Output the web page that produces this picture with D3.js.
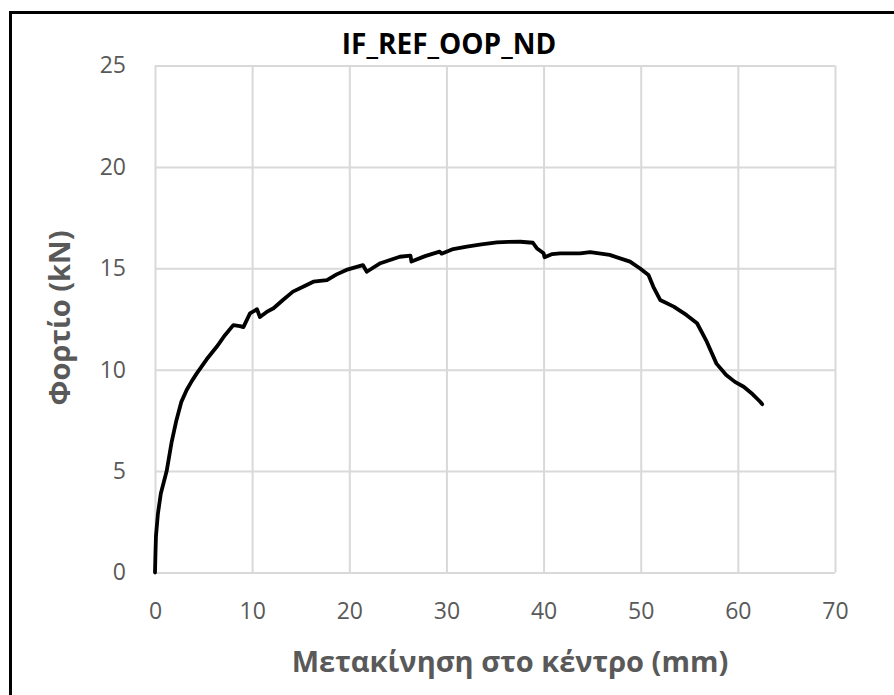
<!DOCTYPE html>
<html>
<head>
<meta charset="utf-8">
<script src="https://cdn.jsdelivr.net/npm/d3@7"></script>
<style>
  html, body { margin: 0; padding: 0; background: #fff; }
  svg { display: block; }
</style>
</head>
<body>
<svg id="chart" width="894" height="695"></svg>
<script>
// Load–displacement curve, central deflection test IF_REF_OOP_ND
const displacement = [0, 0.05, 0.1, 0.3, 0.6, 1.2, 1.7, 2.2, 2.7, 3.26, 3.8, 4.3, 5.3, 6.35, 7.2, 8.06, 8.75, 9.1, 9.78, 10.5, 10.8, 11.5, 12.2, 13.2, 14.2, 15.3, 16.3, 17.7, 18.7, 19.7, 21.4, 21.8, 23.2, 25.2, 26.3, 26.4, 27.8, 29.3, 29.5, 30.7, 32.1, 33.6, 35.2, 36.4, 37.6, 38.9, 39.3, 40.0, 40.1, 40.9, 41.7, 43.75, 44.8, 46.8, 48.9, 49.9, 50.8, 51.3, 52.0, 53.4, 54.7, 55.8, 56.8, 57.8, 58.8, 59.7, 60.6, 61.5, 62.3, 62.5];
const load = [0, 1.0, 1.8, 2.9, 3.9, 5.0, 6.4, 7.5, 8.4, 9.0, 9.45, 9.82, 10.5, 11.13, 11.7, 12.2, 12.15, 12.1, 12.78, 12.98, 12.6, 12.85, 13.03, 13.45, 13.85, 14.1, 14.34, 14.42, 14.7, 14.92, 15.16, 14.83, 15.25, 15.57, 15.62, 15.33, 15.6, 15.82, 15.72, 15.95, 16.07, 16.18, 16.28, 16.3, 16.31, 16.26, 15.99, 15.74, 15.54, 15.7, 15.74, 15.74, 15.8, 15.66, 15.33, 15.0, 14.67, 14.09, 13.44, 13.11, 12.7, 12.29, 11.38, 10.3, 9.74, 9.4, 9.16, 8.8, 8.42, 8.3];

const xTicks = [0, 10, 20, 30, 40, 50, 60, 70];
const yTicks = [0, 5, 10, 15, 20, 25];

const chartTitle = "IF_REF_OOP_ND";
const xTitle = "Μετακίνηση στο κέντρο (mm)";
const yTitle = "Φορτίο (kN)";

const svg = d3.select("#chart");
const plot = { left: 155, right: 835, top: 65.5, bottom: 572.5 };

const x = d3.scaleLinear().domain([0, 70]).range([plot.left, plot.right]);
const y = d3.scaleLinear().domain([0, 25]).range([plot.bottom, plot.top]);

const font = "'Open Sans', 'DejaVu Sans', sans-serif";
const grey = "#595959";
const gridColor = "#d9d9d9";

// outer frame (top and left edges)
svg.append("line").attr("x1", 10.5).attr("x2", 894).attr("y1", 12.5).attr("y2", 12.5)
  .attr("stroke", "#000").attr("stroke-width", 3);
svg.append("line").attr("x1", 10.5).attr("x2", 10.5).attr("y1", 11).attr("y2", 695)
  .attr("stroke", "#000").attr("stroke-width", 3);

// gridlines
const xAxisGrid = d3.axisBottom(x).tickValues(xTicks).tickSize(-(plot.bottom - plot.top)).tickFormat("");
const yAxisGrid = d3.axisLeft(y).tickValues(yTicks).tickSize(-(plot.right - plot.left)).tickFormat("");

svg.append("g").attr("transform", `translate(0,${plot.bottom})`).call(xAxisGrid)
  .call(g => g.select(".domain").remove())
  .call(g => g.selectAll("line").attr("stroke", gridColor).attr("stroke-width", 2));
svg.append("g").attr("transform", `translate(${plot.left},0)`).call(yAxisGrid)
  .call(g => g.select(".domain").remove())
  .call(g => g.selectAll("line").attr("stroke", gridColor).attr("stroke-width", 2));

// tick labels
const xAxis = d3.axisBottom(x).tickValues(xTicks).tickSize(0).tickPadding(30);
svg.append("g").attr("transform", `translate(0,${plot.bottom})`).call(xAxis)
  .call(g => g.select(".domain").remove())
  .call(g => g.selectAll("text").attr("fill", grey).style("font-family", font).style("font-size", "23px"));

const yAxis = d3.axisLeft(y).tickValues(yTicks).tickSize(0).tickPadding(29);
svg.append("g").attr("transform", `translate(${plot.left},0)`).call(yAxis)
  .call(g => g.select(".domain").remove())
  .call(g => g.selectAll("text").attr("fill", grey).style("font-family", font).style("font-size", "23px"));

// data line
const line = d3.line().x((d, i) => x(displacement[i])).y(d => y(d));
svg.append("path").datum(load).attr("d", line)
  .attr("fill", "none").attr("stroke", "#000").attr("stroke-width", 3.8)
  .attr("stroke-linejoin", "round").attr("stroke-linecap", "round");

// titles
svg.append("text").attr("x", 449).attr("y", 54).attr("text-anchor", "middle")
  .style("font-family", font).style("font-weight", "bold").style("font-size", "28px")
  .attr("fill", "#000").text(chartTitle);

svg.append("text").attr("x", 510).attr("y", 672).attr("text-anchor", "middle")
  .style("font-family", font).style("font-weight", "bold").style("font-size", "29px")
  .attr("fill", grey).text(xTitle);

svg.append("text").attr("transform", "translate(70,318) rotate(-90)").attr("text-anchor", "middle")
  .style("font-family", font).style("font-weight", "bold").style("font-size", "29px")
  .attr("fill", grey).text(yTitle);
</script>
</body>
</html>
